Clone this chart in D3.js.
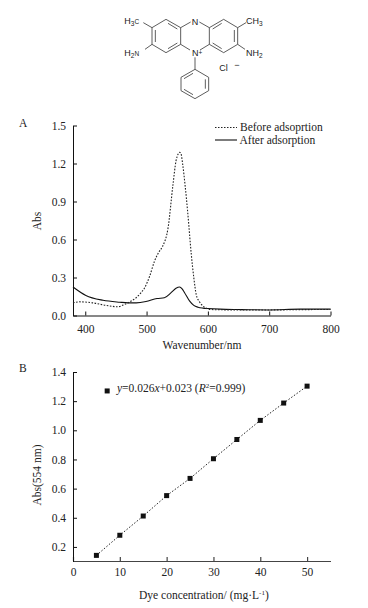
<!DOCTYPE html>
<html>
<head>
<meta charset="utf-8">
<script src="https://cdn.jsdelivr.net/npm/d3@7"></script>
<style>
html, body { margin: 0; padding: 0; background: #fff; }
svg { display: block; }
text { font-family: "Liberation Serif", serif; font-size: 11.5px; fill: #222; }
.mol text { font-family: "Liberation Sans", sans-serif; font-size: 9px; }
</style>
</head>
<body>
<div id="chart"></div>
<script>
// panel A, spectra
const beforeWave = [380, 391, 412, 434, 453, 464, 475, 483, 490, 497, 505, 513, 520, 526, 535, 543, 548, 551, 554, 556, 559, 563, 567, 573, 577, 581, 586, 592, 600, 610, 650, 700, 750, 800];
const beforeAbs = [0.10, 0.108, 0.10, 0.08, 0.069, 0.087, 0.115, 0.14, 0.175, 0.22, 0.31, 0.43, 0.50, 0.545, 0.69, 1.03, 1.22, 1.27, 1.288, 1.28, 1.19, 1.02, 0.82, 0.48, 0.30, 0.165, 0.11, 0.075, 0.052, 0.046, 0.044, 0.044, 0.046, 0.048];
const afterWave = [380, 401, 429, 456, 470, 483, 499, 517, 529, 540, 548, 554, 558, 562, 570, 577, 584, 592, 600, 620, 650, 700, 750, 800];
const afterAbs = [0.225, 0.158, 0.12, 0.105, 0.10, 0.10, 0.11, 0.134, 0.14, 0.18, 0.215, 0.225, 0.21, 0.18, 0.115, 0.08, 0.065, 0.058, 0.055, 0.05, 0.047, 0.044, 0.05, 0.05];
const waveTicks = [400, 500, 600, 700, 800];
const absTicks = [0, 0.3, 0.6, 0.9, 1.2, 1.5];

// panel B, calibration
const concValues = [5, 10, 15, 20, 25, 30, 35, 40, 45, 50];
const concAbs = [0.142, 0.28, 0.412, 0.552, 0.67, 0.805, 0.937, 1.068, 1.187, 1.303];
const concTicks = [0, 10, 20, 30, 40, 50];
const calTicks = [0.2, 0.4, 0.6, 0.8, 1.0, 1.2, 1.4];

const svg = d3.select("#chart").append("svg").attr("width", 368).attr("height", 608);

function styleAxis(g, color, width) {
    g.selectAll("path, line").attr("stroke", color).attr("stroke-width", width);
    g.selectAll("text").attr("fill", "#222").style("font-family", '"Liberation Serif", serif').style("font-size", "11.5px");
}

// ---- molecule ----
const mx = d3.scaleLinear().domain([0, 540]).range([100, 280]);
const my = d3.scaleLinear().domain([0, 315]).range([0, 105]);
const bonds = [
    [198,58,242,83],[242,83,242,133],[242,133,198,158],[198,158,156,133],[156,133,156,83],[156,83,198,58],
    [204,70,232,87],[232,129,204,146],[166,126,166,90],
    [242,83,272,66],[298,66,328,83],[328,83,328,133],[328,133,300,150],[270,150,242,133],
    [328,83,371,58],[371,58,413,83],[413,83,413,133],[413,133,371,158],[371,158,328,133],
    [338,87,365,70],[403,90,403,126],[365,146,338,129],
    [156,83,130,68],[413,83,438,68],[156,133,135,148],[413,133,435,148],
    [285,172,285,208],
    [285,208,326,232],[326,232,326,272],[326,272,285,296],[285,296,243,272],[243,272,243,232],[243,232,285,208],
    [316,238,316,266],[279,284,252,268],[252,236,279,220]
];
const mol = svg.append("g").attr("class", "mol");
mol.selectAll("line").data(bonds).enter().append("line")
    .attr("x1", d => mx(d[0])).attr("y1", d => my(d[1]))
    .attr("x2", d => mx(d[2])).attr("y2", d => my(d[3]))
    .attr("stroke", "#333").attr("stroke-width", 0.8);
function molLabel(x, y, parts, anchor) {
    const t = mol.append("text").attr("x", mx(x)).attr("y", my(y)).attr("text-anchor", anchor || "start");
    parts.forEach(p => {
        t.append("tspan").attr("dy", p[1] || 0).style("font-size", p[1] ? "6.5px" : "9px").text(p[0]);
    });
}
molLabel(73, 72, [["H"], ["3", 2], ["C", -2]]);
molLabel(438, 72, [["CH"], ["3", 2]]);
molLabel(73, 168, [["H"], ["2", 2], ["N", -2]]);
molLabel(438, 168, [["NH"], ["2", 2]]);
molLabel(285, 74, [["N"]], "middle");
molLabel(276, 167, [["N"], ["+", -1]]);
molLabel(358, 213, [["Cl"]]);
molLabel(403, 204, [["−"]]);

// ---- panel A ----
const xA = d3.scaleLinear().domain([380, 800]).range([73, 330.5]);
const yA = d3.scaleLinear().domain([0, 1.5]).range([315.5, 125.5]);

svg.append("g").attr("transform", "translate(0,315.5)")
    .call(d3.axisBottom(xA).tickValues(waveTicks).tickSize(-4).tickSizeOuter(0).tickPadding(9))
    .call(styleAxis, "#111", 1);
svg.append("g").attr("transform", "translate(73,0)")
    .call(d3.axisLeft(yA).tickValues(absTicks).tickSize(-4).tickSizeOuter(0).tickPadding(7).tickFormat(d3.format(".1f")))
    .call(styleAxis, "#111", 1);

const lineA = d3.line().x(d => xA(d[0])).y(d => yA(d[1])).curve(d3.curveMonotoneX);
svg.append("path").datum(d3.zip(afterWave, afterAbs))
    .attr("d", lineA).attr("fill", "none").attr("stroke", "#111").attr("stroke-width", 1.1);
svg.append("path").datum(d3.zip(beforeWave, beforeAbs))
    .attr("d", lineA).attr("fill", "none").attr("stroke", "#222")
    .attr("stroke-width", 1.1).attr("stroke-dasharray", "1.6,1.5");

svg.append("text").attr("x", 19).attr("y", 127).text("A");
svg.append("text").attr("x", 202).attr("y", 348.5).attr("text-anchor", "middle").text("Wavenumber/nm");
svg.append("text").attr("transform", "translate(41,221) rotate(-90)").attr("text-anchor", "middle").text("Abs");

// legend A
svg.append("line").attr("x1", 215).attr("x2", 237).attr("y1", 127.5).attr("y2", 127.5)
    .attr("stroke", "#222").attr("stroke-dasharray", "1.5,1.5");
svg.append("line").attr("x1", 215).attr("x2", 237).attr("y1", 140).attr("y2", 140)
    .attr("stroke", "#111").attr("stroke-width", 1.1);
svg.append("text").attr("x", 240).attr("y", 131).text("Before adsoprtion");
svg.append("text").attr("x", 239.5).attr("y", 143.5).text("After adsorption");

// ---- panel B ----
const xB = d3.scaleLinear().domain([0, 55]).range([73, 330.5]);
const yB = d3.scaleLinear().domain([0.1, 1.4]).range([561.5, 372]);

svg.append("g").attr("transform", "translate(0,561)")
    .call(d3.axisBottom(xB).tickValues(concTicks).tickSize(-4).tickSizeOuter(0).tickPadding(7))
    .call(styleAxis, "#444", 1.2);
svg.append("g").attr("transform", "translate(73,0)")
    .call(d3.axisLeft(yB).tickValues(calTicks).tickSize(-4).tickSizeOuter(0).tickPadding(7).tickFormat(d3.format(".1f")))
    .call(styleAxis, "#111", 1);

const lineB = d3.line().x(d => xB(d[0])).y(d => yB(d[1]));
svg.append("path").datum(d3.zip(concValues, concAbs))
    .attr("d", lineB).attr("fill", "none").attr("stroke", "#222")
    .attr("stroke-width", 1).attr("stroke-dasharray", "1.5,1.8");
svg.selectAll(".pt").data(d3.zip(concValues, concAbs)).enter().append("rect")
    .attr("class", "pt")
    .attr("x", d => xB(d[0]) - 2.5).attr("y", d => yB(d[1]) - 2.5)
    .attr("width", 5).attr("height", 5).attr("fill", "#111");

// key marker and fit equation
svg.append("rect").attr("x", xB(7.3) - 2.5).attr("y", yB(1.27) - 2.5)
    .attr("width", 5).attr("height", 5).attr("fill", "#111");
const eq = svg.append("text").attr("x", 117).attr("y", 391.5);
eq.append("tspan").style("font-style", "italic").text("y");
eq.append("tspan").text("=0.026");
eq.append("tspan").style("font-style", "italic").text("x");
eq.append("tspan").text("+0.023 (");
eq.append("tspan").style("font-style", "italic").text("R");
eq.append("tspan").attr("dy", -3.5).style("font-size", "7px").text("2");
eq.append("tspan").attr("dy", 3.5).text("=0.999)");

svg.append("text").attr("x", 19).attr("y", 372).text("B");
const xt = svg.append("text").attr("x", 139).attr("y", 598.5);
xt.append("tspan").text("Dye concentration/ (mg·L");
xt.append("tspan").attr("dy", -3.5).style("font-size", "7px").text("-1");
xt.append("tspan").attr("dy", 3.5).text(")");
svg.append("text").attr("transform", "translate(41,475) rotate(-90)").attr("text-anchor", "middle").text("Abs(554 nm)");
</script>
</body>
</html>
